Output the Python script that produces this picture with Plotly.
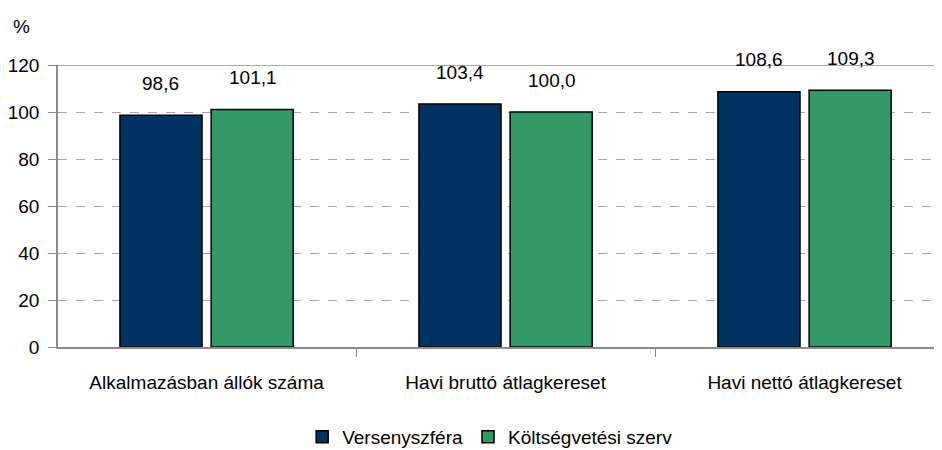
import plotly.graph_objects as go

categories = ["Alkalmazásban állók száma", "Havi bruttó átlagkereset", "Havi nettó átlagkereset"]
verseny = [98.6, 103.4, 108.6]
koltseg = [101.1, 100.0, 109.3]
series_names = ["Versenyszféra", "Költségvetési szerv"]
y_ticks = [0, 20, 40, 60, 80, 100, 120]

FONT = "Liberation Sans"
navy = "#003362"
green = "#339966"

fig = go.Figure()
fig.add_trace(go.Bar(x=categories, y=verseny, name=series_names[0],
                     marker=dict(color=navy, line=dict(color="#000000", width=1.5))))
fig.add_trace(go.Bar(x=categories, y=koltseg, name=series_names[1],
                     marker=dict(color=green, line=dict(color="#000000", width=1.5))))

# value labels sit well above the bar tops, like the original
for vals, shift in ((verseny, -46), (koltseg, 46)):
    for cat, v in zip(categories, vals):
        fig.add_annotation(x=cat, y=v, text=f"{v:.1f}".replace(".", ","),
                           showarrow=False, xshift=shift, yshift=32,
                           yanchor="middle", font=dict(size=19, color="#000000"))

fig.add_annotation(text="%", showarrow=False, xref="paper", yref="paper",
                   x=-0.041, y=1.135, xanchor="center", yanchor="middle")

# solid top border at 120
fig.add_shape(type="line", xref="paper", x0=0, x1=1, yref="y", y0=120, y1=120,
              line=dict(color="#8c8c8c", width=1.5), layer="above")

# page body has an 8px margin, so the figure is a bit smaller than the window
fig.update_layout(
    width=934, height=442,
    margin=dict(l=50, r=2, t=57, b=103, autoexpand=False),
    paper_bgcolor="white", plot_bgcolor="white",
    font=dict(family=FONT, size=19, color="#000000"),
    barmode="group", bargap=0.39, bargroupgap=0.1,
    showlegend=True,
    legend=dict(orientation="h", x=0.49, xanchor="center", y=-0.319, yanchor="middle",
                font=dict(size=19), itemwidth=30, traceorder="normal"),
)
fig.update_xaxes(range=[-0.497, 2.453], showline=True, linecolor="#8c8c8c", linewidth=1.5,
                 ticks="outside", tickson="boundaries", ticklen=8, tickcolor="#8c8c8c",
                 ticklabelstandoff=17, showgrid=False, automargin=False)
fig.update_yaxes(range=[0, 120], tickvals=y_ticks, showline=True, linecolor="#8c8c8c",
                 linewidth=1.5, ticks="outside", ticklen=8, tickcolor="#8c8c8c",
                 ticklabelstandoff=5, showgrid=True, gridcolor="#a6a6a6", griddash="dash",
                 gridwidth=1, zeroline=False, automargin=False)

fig.write_html("out.html")
